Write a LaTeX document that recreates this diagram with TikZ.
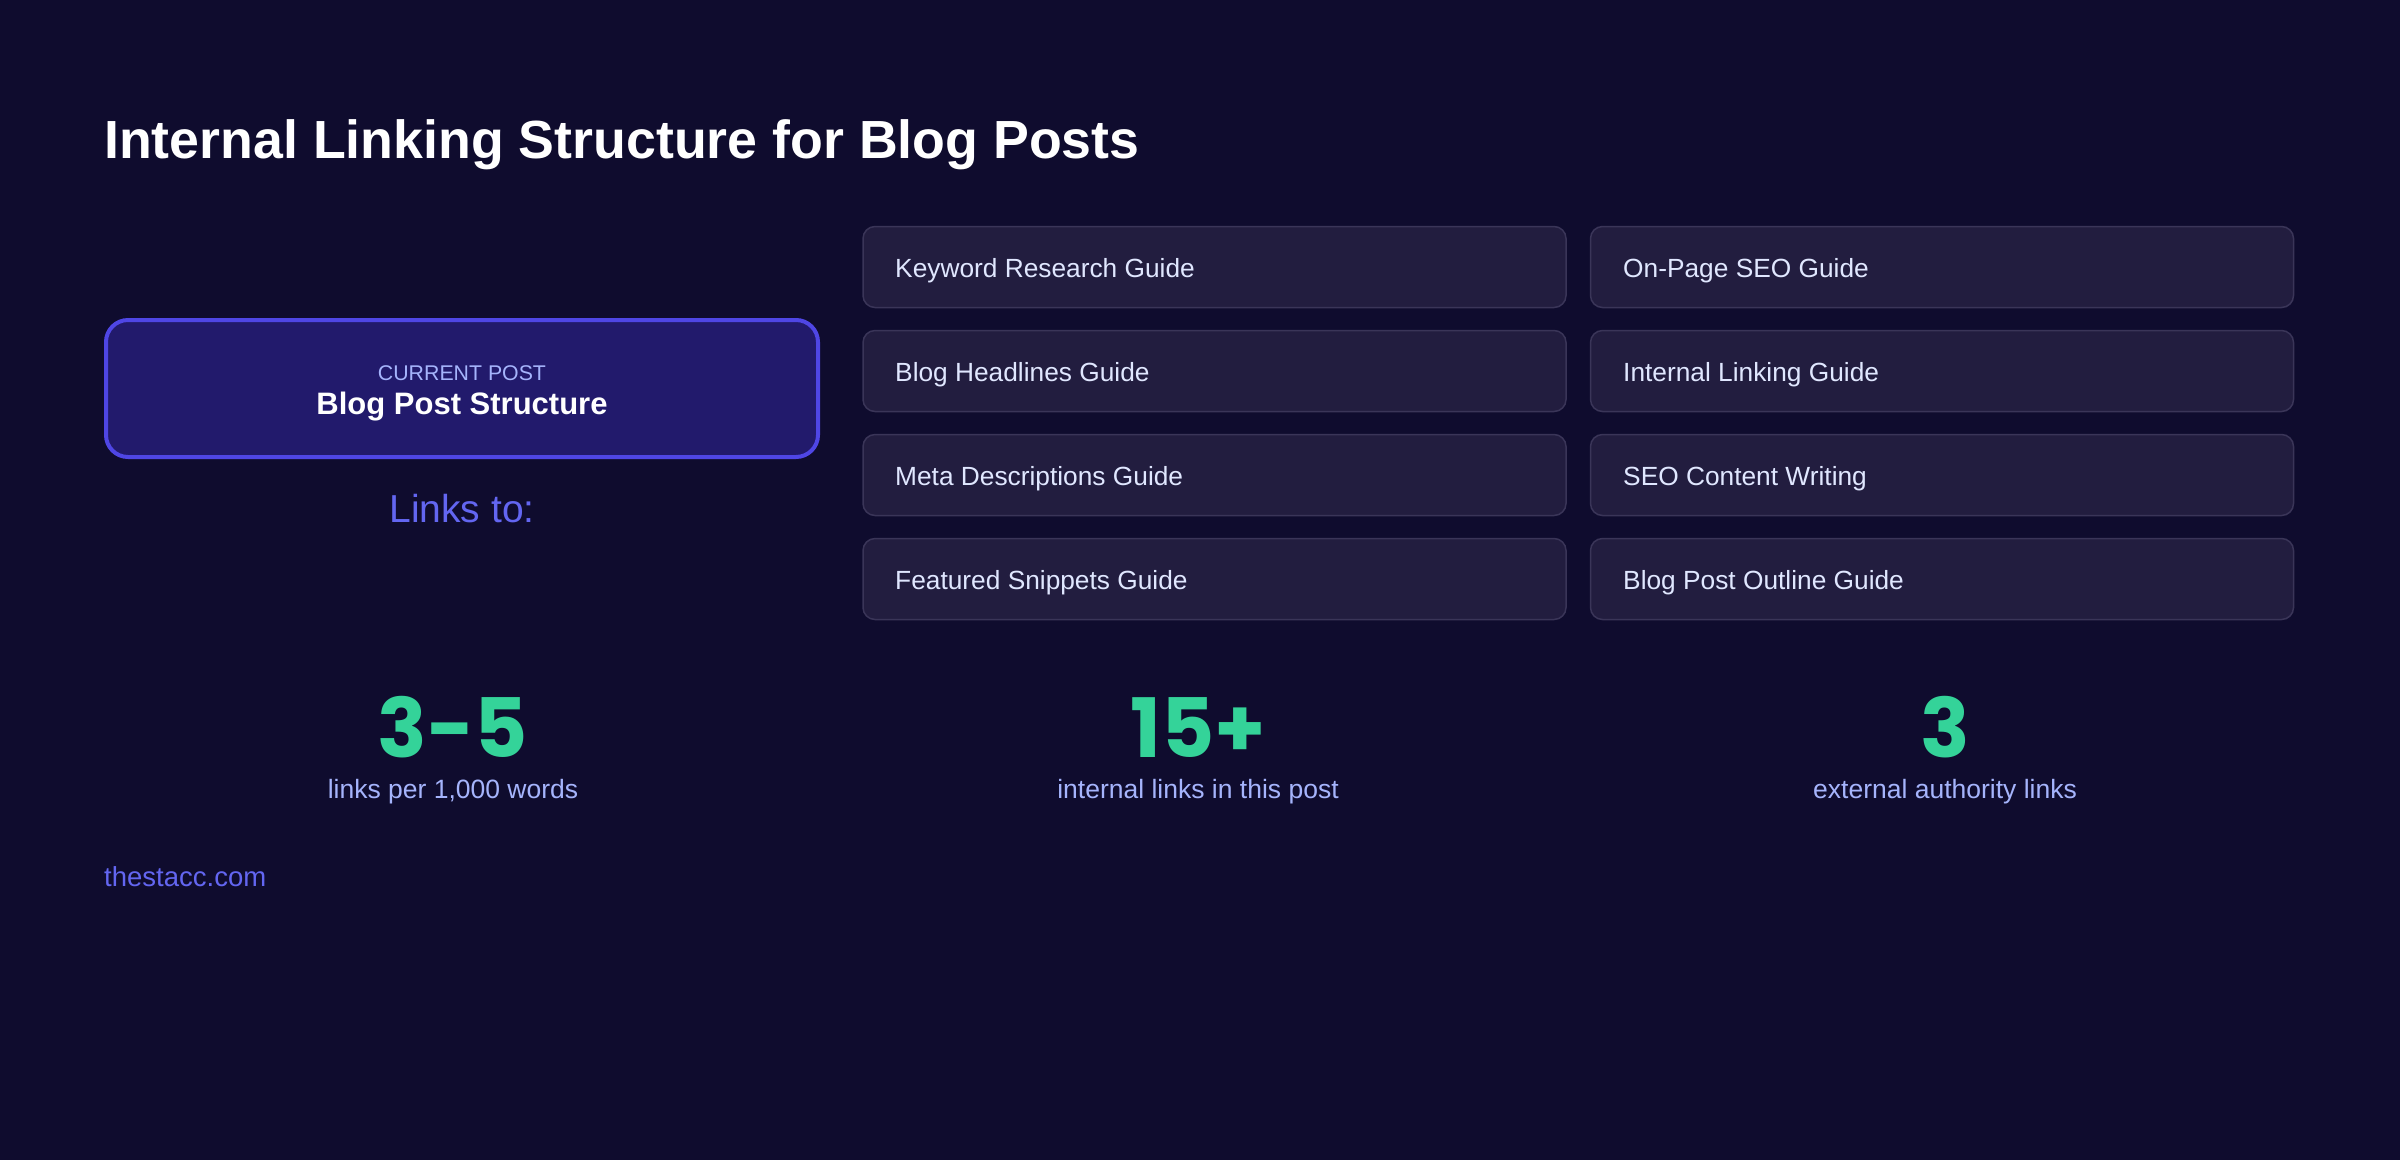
\documentclass[tikz,border=0pt]{standalone}
\usepackage{fontspec}
\setmainfont{Liberation Sans}
\newfontfamily\numfont{Poppins}
\definecolor{bgc}{HTML}{0F0C2E}
\definecolor{curfill}{HTML}{221A6C}
\definecolor{curborder}{HTML}{4F46E5}
\definecolor{lightind}{HTML}{A5B4FC}
\definecolor{indigo}{HTML}{6366F1}
\definecolor{lbfill}{HTML}{221D3F}
\definecolor{lbborder}{HTML}{3A3558}
\definecolor{lbtext}{HTML}{E0E7FF}
\definecolor{green}{HTML}{34D399}
\tikzset{
  linkbox/.style={draw=lbborder, line width=1.5pt, fill=lbfill, rounded corners=12pt,
    minimum width=703pt, minimum height=81pt, inner sep=0pt},
  linktext/.style={anchor=base west, inner sep=0pt, text=lbtext, font=\fontsize{26.3}{30}\selectfont},
  statnum/.style={anchor=base, inner sep=0pt, text depth=0pt, text=green, font=\numfont\bfseries\fontsize{82}{88}\selectfont},
  statlabel/.style={anchor=base, inner sep=0pt, text=lightind, font=\fontsize{26.5}{30}\selectfont}
}
\begin{document}
\begin{tikzpicture}[x=1pt,y=-1pt]
\fill[bgc] (0,0) rectangle (2400,1160);
\useasboundingbox (0,0) rectangle (2400,1160);

\node[anchor=base west, inner sep=0pt, text=white, font=\bfseries\fontsize{53.7}{60}\selectfont] (title) at (104,158) {Internal Linking Structure for Blog Posts};

\node[draw=curborder, line width=4pt, fill=curfill, rounded corners=22pt, minimum width=712pt, minimum height=137pt, inner sep=0pt] (cur) at (462,388.5) {};
\node[anchor=base, inner sep=0pt, text=lightind, font=\fontsize{21.3}{24}\selectfont] (curlabel) at (462,380) {CURRENT POST};
\node[anchor=base, inner sep=0pt, text=white, font=\bfseries\fontsize{31}{36}\selectfont] (curtitle) at (462,414) {Blog Post Structure};
\node[anchor=base, inner sep=0pt, text=indigo, font=\fontsize{39}{44}\selectfont] (linksto) at (462,522) {Links to:};

\node[linkbox] (b11) at (1214.5,267) {};
\node[linkbox] (b12) at (1942,267) {};
\node[linkbox] (b21) at (1214.5,371) {};
\node[linkbox] (b22) at (1942,371) {};
\node[linkbox] (b31) at (1214.5,475) {};
\node[linkbox] (b32) at (1942,475) {};
\node[linkbox] (b41) at (1214.5,579) {};
\node[linkbox] (b42) at (1942,579) {};

\node[linktext] (t11) at (895,277.5) {Keyword Research Guide};
\node[linktext] (t12) at (1623,277.5) {On-Page SEO Guide};
\node[linktext] (t21) at (895,381.5) {Blog Headlines Guide};
\node[linktext] (t22) at (1623,381.5) {Internal Linking Guide};
\node[linktext] (t31) at (895,485.5) {Meta Descriptions Guide};
\node[linktext] (t32) at (1623,485.5) {SEO Content Writing};
\node[linktext] (t41) at (895,589.5) {Featured Snippets Guide};
\node[linktext] (t42) at (1623,589.5) {Blog Post Outline Guide};

\node[statnum] (n1) at (453,757) {3-5};
\node[statnum] (n2) at (1198,757) {15+};
\node[statnum] (n3) at (1945,757) {3};
\node[statlabel] (l1) at (453,798) {links per 1,000 words};
\node[statlabel] (l2) at (1198,798) {internal links in this post};
\node[statlabel] (l3) at (1945,798) {external authority links};

\node[anchor=base west, inner sep=0pt, text=indigo, font=\fontsize{27.5}{30}\selectfont] (site) at (104,886) {thestacc.com};
\end{tikzpicture}
\end{document}
